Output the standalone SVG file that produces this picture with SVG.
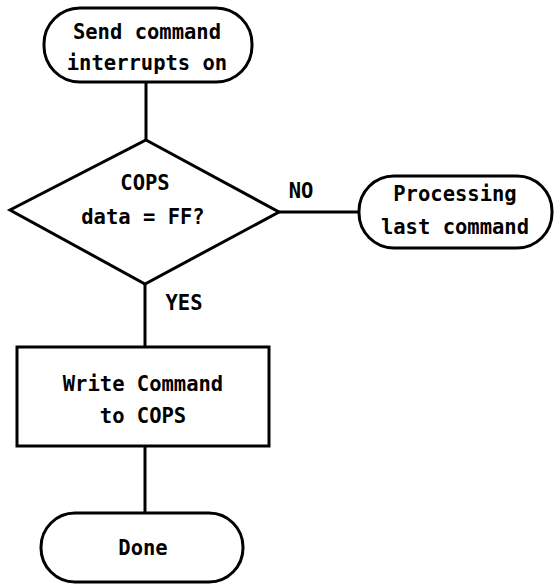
<svg xmlns="http://www.w3.org/2000/svg" width="555" height="587" viewBox="0 0 555 587">
<style>
.shape{fill:#fff;stroke:#000;stroke-width:3}
.conn{fill:none;stroke:#000;stroke-width:3}
text{font-family:"DejaVu Sans Mono","Liberation Mono",monospace;font-weight:bold;font-size:20.5px;fill:#000;text-anchor:middle;dominant-baseline:central}
</style>
<rect width="555" height="587" fill="#fff"/>
<g id="connectors">
<line class="conn" x1="146" y1="82" x2="146" y2="140"/>
<line class="conn" x1="279" y1="212" x2="359" y2="212"/>
<line class="conn" x1="145" y1="284" x2="145" y2="347"/>
<line class="conn" x1="145" y1="446" x2="145" y2="513"/>
<text x="301" y="191">NO</text>
<text x="184" y="303">YES</text>
</g>
<g id="start">
<rect class="shape" x="44" y="8" width="208" height="74" rx="36" ry="36"/>
<text x="147" y="32">Send command</text>
<text x="147" y="63">interrupts on</text>
</g>
<g id="decision">
<polygon class="shape" points="146,140 279,212 145,284 10,210"/>
<text x="145" y="183">COPS</text>
<text x="143" y="217">data = FF?</text>
</g>
<g id="processing">
<rect class="shape" x="359" y="176" width="193" height="72" rx="35" ry="35"/>
<text x="455" y="194">Processing</text>
<text x="455" y="227">last command</text>
</g>
<g id="write">
<rect class="shape" x="17" y="347" width="252" height="99"/>
<text x="143" y="384">Write Command</text>
<text x="143" y="416">to COPS</text>
</g>
<g id="done">
<rect class="shape" x="41" y="513" width="202" height="69" rx="34" ry="34"/>
<text x="143" y="548">Done</text>
</g>
</svg>
